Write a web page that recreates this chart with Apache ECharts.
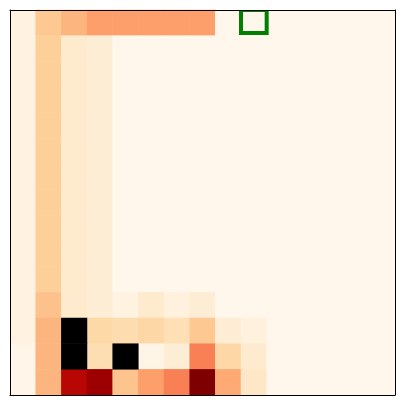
<!DOCTYPE html>
<html>
<head>
<meta charset="utf-8">
<script src="https://cdn.jsdelivr.net/npm/echarts@6/dist/echarts.min.js"></script>
<style>html,body{margin:0;padding:0;background:#fff;}#c{width:405px;height:405px;}</style>
</head>
<body>
<div id="c"></div>
<script>
// 15 x 15 grid; row 0 is the top row
const xCategories = ['0','1','2','3','4','5','6','7','8','9','10','11','12','13','14'];
const yCategories = ['0','1','2','3','4','5','6','7','8','9','10','11','12','13','14'];
// values on a 0-100 scale (null = missing, drawn black)
const values = [
  [4, 31, 39, 45, 45, 45, 45, 45, 0, 0, 0, 0, 0, 0, 0],
  [4, 27, 11, 8, 0, 0, 0, 0, 0, 0, 0, 0, 0, 0, 0],
  [4, 27, 11, 8, 0, 0, 0, 0, 0, 0, 0, 0, 0, 0, 0],
  [4, 27, 11, 8, 0, 0, 0, 0, 0, 0, 0, 0, 0, 0, 0],
  [4, 27, 11, 8, 0, 0, 0, 0, 0, 0, 0, 0, 0, 0, 0],
  [4, 27, 11, 8, 0, 0, 0, 0, 0, 0, 0, 0, 0, 0, 0],
  [4, 27, 11, 8, 0, 0, 0, 0, 0, 0, 0, 0, 0, 0, 0],
  [4, 27, 11, 8, 0, 0, 0, 0, 0, 0, 0, 0, 0, 0, 0],
  [4, 27, 11, 8, 0, 0, 0, 0, 0, 0, 0, 0, 0, 0, 0],
  [4, 27, 11, 8, 0, 0, 0, 0, 0, 0, 0, 0, 0, 0, 0],
  [4, 27, 11, 8, 0, 0, 0, 0, 0, 0, 0, 0, 0, 0, 0],
  [4, 34, 11, 8, 4, 11, 5, 8, 0, 0, 0, 0, 0, 0, 0],
  [4, 39, null, 22, 20, 23, 18, 31, 8, 5, 0, 0, 0, 0, 0],
  [1, 39, null, 19, null, 2, 8, 54, 23, 10, 0, 0, 0, 0, 0],
  [1, 39, 86, 93, 33, 45, 54, 100, 42, 13, 0, 0, 0, 0, 0]
];
const highlightCell = [9, 0];
const orRd = ['#fff7ec','#fee8c8','#fdd49e','#fdbb84','#fc8d59','#ef6548','#d7301f','#b30000','#7f0000'];

const heatData = [];
const nanData = [];
values.forEach((row, r) => row.forEach((v, c) => {
  if (v === null) nanData.push([c, r, 0]);
  else heatData.push([c, r, v]);
}));

const axisLine = { show: true, lineStyle: { color: '#000', width: 1 } };
const chart = echarts.init(document.getElementById('c'));
chart.setOption({
  animation: false,
  backgroundColor: '#fff',
  grid: { left: 10, top: 10, width: 385, height: 385 },
  xAxis: [
    { type: 'category', data: xCategories, position: 'bottom', z: 10, axisLine, axisTick: { show: false }, axisLabel: { show: false }, splitLine: { show: false } },
    { type: 'category', data: xCategories, position: 'top', z: 10, axisLine, axisTick: { show: false }, axisLabel: { show: false }, splitLine: { show: false } }
  ],
  yAxis: [
    { type: 'category', data: yCategories, inverse: true, position: 'left', z: 10, axisLine, axisTick: { show: false }, axisLabel: { show: false }, splitLine: { show: false } },
    { type: 'category', data: yCategories, inverse: true, position: 'right', z: 10, axisLine, axisTick: { show: false }, axisLabel: { show: false }, splitLine: { show: false } }
  ],
  visualMap: { show: false, type: 'continuous', min: 0, max: 100, seriesIndex: 0, inRange: { color: orRd } },
  series: [
    { type: 'heatmap', data: heatData, xAxisIndex: 0, yAxisIndex: 0, emphasis: { disabled: true } },
    { type: 'heatmap', data: nanData, xAxisIndex: 0, yAxisIndex: 0, itemStyle: { color: '#000' }, emphasis: { disabled: true } },
    {
      type: 'custom', xAxisIndex: 0, yAxisIndex: 0, clip: true, z: 5,
      data: [highlightCell],
      renderItem: function (params, api) {
        const c = api.coord([api.value(0), api.value(1)]);
        const s = api.size([1, 1]);
        return {
          type: 'rect',
          shape: { x: c[0] - s[0] / 2, y: c[1] - s[1] / 2, width: s[0], height: s[1] * 0.9 },
          style: { fill: 'none', stroke: '#008000', lineWidth: 4 }
        };
      }
    }
  ]
});
</script>
</body>
</html>
